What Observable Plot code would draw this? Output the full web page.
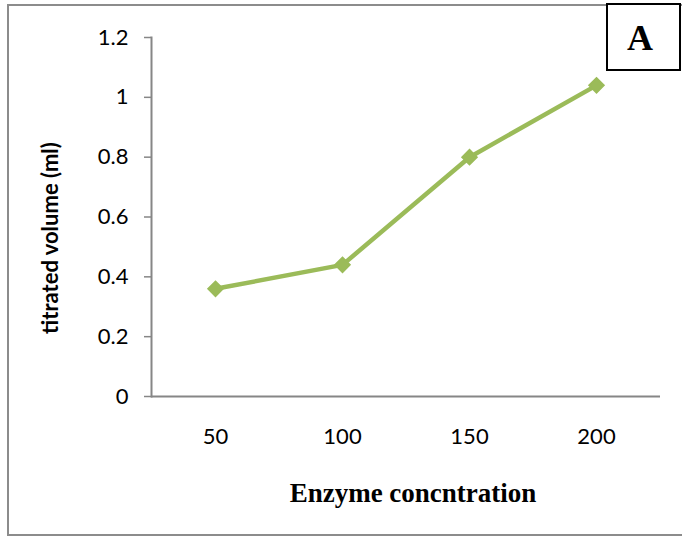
<!DOCTYPE html>
<html>
<head>
<meta charset="utf-8">
<script src="https://cdn.jsdelivr.net/npm/d3@7"></script>
<script src="https://cdn.jsdelivr.net/npm/@observablehq/plot@0.6"></script>
<style>
  body { margin: 0; background: #fff; }
  #chart { position: relative; width: 682px; height: 538px; }
</style>
</head>
<body>
<div id="chart"></div>
<script>
const concentrations = ["50", "100", "150", "200"];
const volumes = [0.36, 0.44, 0.80, 1.04];
const yTicks = [0, 0.2, 0.4, 0.6, 0.8, 1.0, 1.2];
const xTitle = "Enzyme concntration";
const yTitle = "titrated volume (ml)";
const panelLabel = "A";

const data = concentrations.map((c, i) => ({c, v: volumes[i]}));
const green = "#9BBB59";
const axisGray = "#868686";
const sans = "Lato, 'Open Sans', sans-serif";
const serif = "'Liberation Serif', 'Times New Roman', serif";

const plot = Plot.plot({
  width: 682,
  height: 538,
  marginLeft: 151,
  marginRight: 22,
  marginTop: 37,
  marginBottom: 142,
  style: {fontFamily: sans, fontSize: "22px", color: "#000", background: "#fff"},
  x: {type: "point", domain: concentrations, padding: 0.5},
  y: {domain: [0, 1.2]},
  marks: [
    Plot.frame({anchor: "left", stroke: axisGray, strokeWidth: 2}),
    Plot.axisY({ticks: yTicks, tickFormat: d => String(d), tickSize: 7, tickPadding: 16, stroke: axisGray, strokeWidth: 1.5, label: null, fill: "#000", fontSize: 22}),
    Plot.axisX({tickSize: 0, tickPadding: 32, label: null, fill: "#000", fontSize: 22}),
    Plot.ruleY([0], {stroke: axisGray, strokeWidth: 2}),
    Plot.line(data, {x: "c", y: "v", stroke: green, strokeWidth: 4.5}),
    Plot.dot(data, {x: "c", y: "v", symbol: "diamond2", r: 6.8, fill: green, stroke: green})
  ]
});
document.getElementById("chart").appendChild(plot);

const svg = d3.select(plot);
svg.insert("rect", ":first-child")
  .attr("x", 8).attr("y", 5).attr("width", 700).attr("height", 530)
  .attr("fill", "none").attr("stroke", "#8c8c8c").attr("stroke-width", 2);
svg.append("text")
  .attr("transform", "translate(58,238) rotate(-90)")
  .attr("text-anchor", "middle")
  .attr("font-family", sans).attr("font-weight", "bold").attr("font-size", 22)
  .attr("fill", "#000")
  .text(yTitle);
svg.append("text")
  .attr("x", 413).attr("y", 502)
  .attr("text-anchor", "middle")
  .attr("font-family", serif).attr("font-weight", "bold").attr("font-size", 27)
  .attr("fill", "#000")
  .text(xTitle);
svg.append("rect")
  .attr("x", 607).attr("y", 4).attr("width", 73).attr("height", 66)
  .attr("fill", "#fff").attr("stroke", "#000").attr("stroke-width", 2);
svg.append("text")
  .attr("x", 640).attr("y", 50)
  .attr("text-anchor", "middle")
  .attr("font-family", serif).attr("font-weight", "bold").attr("font-size", 36)
  .attr("fill", "#000")
  .text(panelLabel);
</script>
</body>
</html>
